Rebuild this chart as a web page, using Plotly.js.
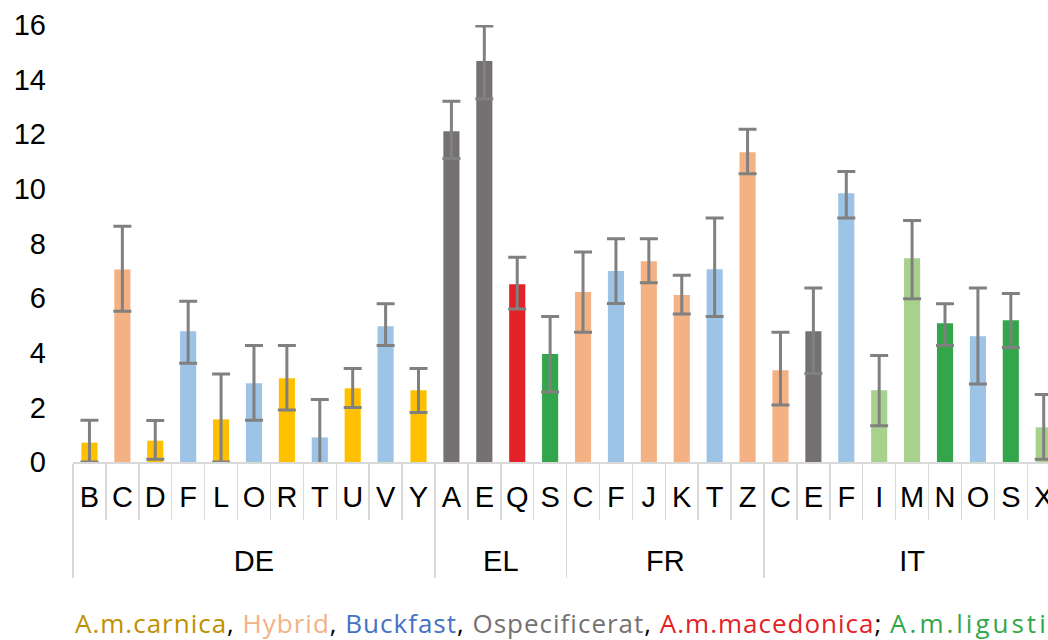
<!DOCTYPE html>
<html>
<head>
<meta charset="utf-8">
<script src="https://cdn.plot.ly/plotly-3.0.1.min.js"></script>
<style>
  html, body { margin: 0; padding: 0; background: #ffffff; }
  #chart { width: 1048px; height: 640px; }
</style>
</head>
<body>
<div id="chart"></div>
<script>
// ---- data ----
const countries = ["DE","DE","DE","DE","DE","DE","DE","DE","DE","DE","DE",
                   "EL","EL","EL","EL",
                   "FR","FR","FR","FR","FR","FR",
                   "IT","IT","IT","IT","IT","IT","IT","IT","IT"];
const apiaries  = ["B","C","D","F","L","O","R","T","U","V","Y",
                   "A","E","Q","S",
                   "C","F","J","K","T","Z",
                   "C","E","F","I","M","N","O","S","X"];
const values    = [0.71,7.05,0.78,4.79,1.56,2.88,3.07,0.90,2.70,4.97,2.63,
                   12.11,14.68,6.51,3.95,
                   6.22,6.99,7.35,6.11,7.06,11.34,
                   3.36,4.79,9.84,2.63,7.46,5.08,4.60,5.19,1.27];
const errPlus   = [0.82,1.58,0.74,1.10,1.66,1.39,1.20,1.39,0.72,0.82,0.79,
                   1.10,1.28,0.99,1.38,
                   1.47,1.18,0.82,0.73,1.87,0.84,
                   1.39,1.58,0.80,1.27,1.38,0.71,1.77,0.98,1.20];
const errMinus  = [0.71,1.53,0.68,1.17,1.56,1.35,1.17,1.28,0.70,0.70,0.82,
                   1.00,1.38,0.91,1.39,
                   1.47,1.19,0.79,0.69,1.73,0.79,
                   1.27,1.55,0.91,1.30,1.48,0.81,1.74,1.00,1.17];
const beeType   = ["carnica","hybrid","carnica","buckfast","carnica","buckfast","carnica","buckfast","carnica","buckfast","carnica",
                   "ospec","ospec","macedonica","ligustica",
                   "hybrid","buckfast","hybrid","hybrid","buckfast","hybrid",
                   "hybrid","ospec","buckfast","ligustica2","ligustica2","ligustica","buckfast","ligustica","ligustica2"];
const legendNames = ["A.m.carnica","Hybrid","Buckfast","Ospecificerat","A.m.macedonica","A.m.ligustica"];
const legendSeps  = [", ",", ",", ",", ","; ",""];
const yTicks = [0,2,4,6,8,10,12,14,16];

// ---- styles ----
const barColor = {
  carnica: "#FFC000", hybrid: "#F4B183", buckfast: "#9DC3E6", ospec: "#767171",
  macedonica: "#E32227", ligustica: "#33A64B", ligustica2: "#A9D18E"
};
const legendColors = ["#BF9000","#F4B183","#4472C4","#767171","#E32227","#33A64B"];
const legendSpacing = [1, 1, 1, 1, 1, 3];

// Plotly sorts multicategory pairs by the first appearance of each level's value,
// so feed the points in an order where countries appear DE, EL, FR, IT and the
// letters appear in an order compatible with every group's (alphabetical) order.
const groupFirst = [...new Set(countries)].map(c => countries.indexOf(c));
const restIdx = countries.map((_, i) => i)
  .filter(i => !groupFirst.includes(i))
  .sort((a, b) => apiaries[a].localeCompare(apiaries[b]) || countries[a].localeCompare(countries[b]));
const order = groupFirst.concat(restIdx);
const pick = arr => order.map(i => arr[i]);

const trace = {
  type: "bar",
  // group labels get a leading line break so they sit lower, as in the reference
  x: [pick(countries).map(c => "<br>" + c), pick(apiaries)],
  y: pick(values),
  marker: { color: pick(beeType).map(t => barColor[t]), line: { width: 0 } },
  error_y: {
    type: "data", symmetric: false, array: pick(errPlus), arrayminus: pick(errMinus),
    color: "#808080", thickness: 3, width: 9
  },
  hoverinfo: "y"
};

let legendHtml = "";
legendNames.forEach((n, i) => {
  legendHtml += '<span style="color:' + legendColors[i] + ';letter-spacing:' + legendSpacing[i] + 'px">' + n + '</span>' +
                (legendSeps[i] ? '<span style="color:#000000;letter-spacing:1px">' + legendSeps[i] + '</span>' : "");
});

const layout = {
  width: 1048, height: 640,
  margin: { l: 73, r: 0, t: 25, b: 178 },
  paper_bgcolor: "#ffffff", plot_bgcolor: "#ffffff",
  showlegend: false,
  bargap: 0.51,
  font: { family: "Liberation Sans, Arial, sans-serif", color: "#000000" },
  xaxis: {
    type: "multicategory",
    range: [-0.5, 29.13],
    tickmode: "linear", tick0: 0, dtick: 1,
    tickangle: 0,
    showline: true, linecolor: "#D9D9D9", linewidth: 2,
    ticks: "outside", ticklen: 56, tickcolor: "#D9D9D9", tickwidth: 1.5,
    tickson: "boundaries",
    showdividers: true, dividercolor: "#D9D9D9", dividerwidth: 1.5,
    tickfont: { size: 29, color: "#000000" },
    ticklabelstandoff: 8,
    showgrid: false, zeroline: false
  },
  yaxis: {
    range: [0, 16],
    tickvals: yTicks, ticktext: yTicks.map(String),
    showline: false, showgrid: false, zeroline: false,
    ticks: "", tickfont: { size: 29, color: "#000000" },
    ticklabelstandoff: 26
  },
  annotations: [{
    xref: "paper", yref: "paper", x: 0, y: -0.369,
    xanchor: "left", yanchor: "middle", showarrow: false,
    text: legendHtml,
    font: { family: "Open Sans, Noto Sans, sans-serif", size: 26 }
  }]
};

Plotly.newPlot("chart", [trace], layout, { displayModeBar: false, staticPlot: true });
</script>
</body>
</html>
